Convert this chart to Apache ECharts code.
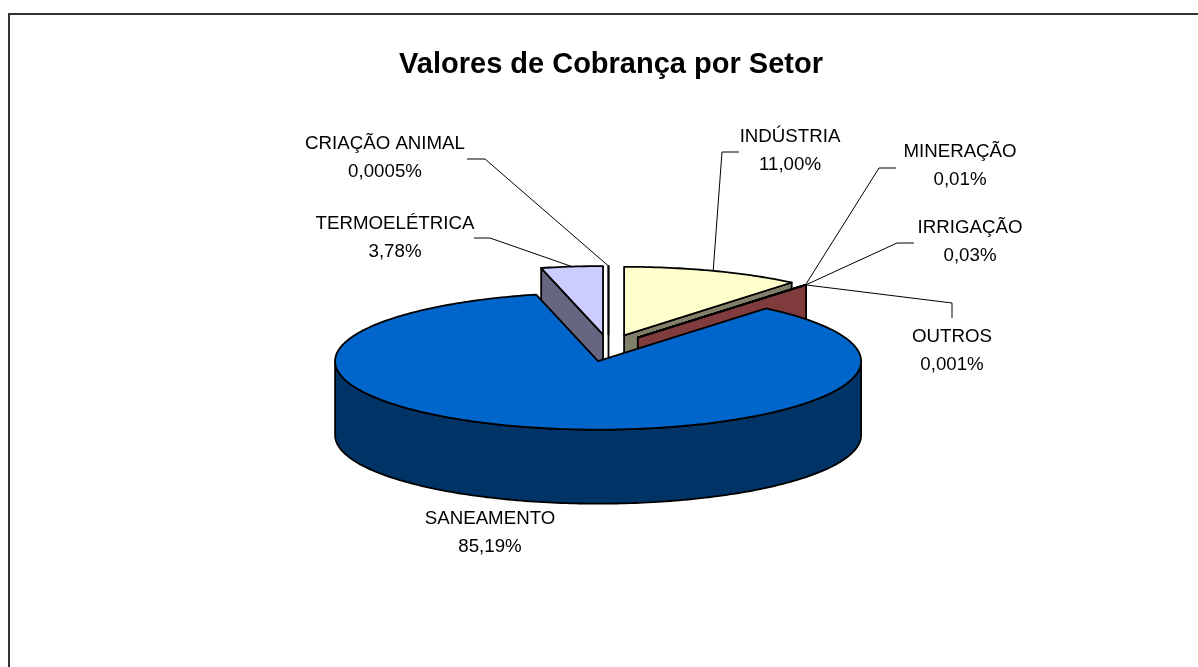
<!DOCTYPE html>
<html><head><meta charset="utf-8">
<script src="https://cdn.jsdelivr.net/npm/echarts@6/dist/echarts.min.js"></script>
<style>html,body{margin:0;padding:0;background:#fff}#c{width:1198px;height:667px}</style>
</head><body><div id="c"></div>
<script>
// ---- data ----
const titleText = 'Valores de Cobrança por Setor';
const categories = ['INDÚSTRIA','MINERAÇÃO','IRRIGAÇÃO','OUTROS','SANEAMENTO','TERMOELÉTRICA','CRIAÇÃO ANIMAL'];
const values = [11.00, 0.01, 0.03, 0.001, 85.19, 3.78, 0.0005];
const valueLabels = ['11,00%','0,01%','0,03%','0,001%','85,19%','3,78%','0,0005%'];

// ---- styles and layout ----
const topColors  = ['#FFFFCC','#993366','#993333','#993333','#0066CC','#CCCCFF','#FFFFFF'];
const wallColors = ['#80806A','#803C3C','#803C3C','#803C3C','#003366','#666680','#FFFFFF'];
const drawRank   = [1,2,3,4,7,5,6];
const pie = {cx:608.5, cy:348, rx:263, ry:68.5, depth:74, explodeX:46, explodeY:13.5};
const labelPos = [[790,137],[960,152],[970,228],[952,337],[490,519],[395,224],[385,144]];
const labelGap = 28;
// leader: elbow points from the label side; the last point is the slice's rim point
const leaderElbows = [
  [[739,152],[722,152]],
  [[896,168],[879,168]],
  [[914,243],[897,243]],
  [[952,318],[952,303]],
  null,
  [[474,238],[490,238]],
  [[467,159],[485,159]]
];
const labelFont = '18.7px "Liberation Sans", Arial, sans-serif';

// ---- geometry from values ----
const total = values.reduce((a,b)=>a+b,0);
const D2R = Math.PI/180;
let acc = 0;
const angles = values.map(v=>{const a0=acc; acc+=v/total*360; return [a0,acc];});

function pt(c,t,rx,ry){return [c[0]+rx*Math.sin(t*D2R), c[1]-ry*Math.cos(t*D2R)];}
function down(p){return [p[0],p[1]+pie.depth];}
function sliceCenter(a0,a1){
  return pt([pie.cx,pie.cy],(a0+a1)/2,pie.explodeX,pie.explodeY);
}
function arc(c,a0,a1){
  const n=Math.max(1,Math.ceil(a1-a0)), out=[];
  for(let i=0;i<=n;i++) out.push(pt(c,a0+(a1-a0)*i/n,pie.rx,pie.ry));
  return out;
}
const stroke={stroke:'#000',lineWidth:1.8,lineJoin:'round'};

function renderItem(params,api){
  const i=params.dataIndex, [a0,a1]=angles[i];
  const c=sliceCenter(a0,a1), z=drawRank[i]*10, kids=[];
  const face=(a,zz)=>{
    const p=pt(c,a,pie.rx,pie.ry);
    kids.push({type:'polygon',z2:zz,shape:{points:[c,p,down(p),down(c)]},
      style:Object.assign({fill:wallColors[i]},stroke)});
  };
  if(Math.sin(a0*D2R)<0) face(a0,z);
  if(Math.sin(a1*D2R)>0) face(a1,z);
  const w0=Math.max(a0,90), w1=Math.min(a1,270);
  if(w1>w0){
    const rim=arc(c,w0,w1);
    kids.push({type:'polygon',z2:z+1,shape:{points:rim.concat(rim.map(down).reverse())},
      style:Object.assign({fill:wallColors[i]},stroke)});
  }
  kids.push({type:'polygon',z2:z+2,shape:{points:[c].concat(arc(c,a0,a1))},
    style:Object.assign({fill:topColors[i]},stroke)});
  // label
  const [lx,ly]=labelPos[i];
  kids.push({type:'text',z2:200,style:{text:categories[i],x:lx,y:ly,align:'center',verticalAlign:'middle',font:labelFont,fill:'#000'}});
  kids.push({type:'text',z2:200,style:{text:valueLabels[i],x:lx,y:ly+labelGap,align:'center',verticalAlign:'middle',font:labelFont,fill:'#000'}});
  if(leaderElbows[i]){
    const tip=pt(c,(a0+a1)/2,pie.rx,pie.ry);
    kids.push({type:'polyline',z2:150,shape:{points:leaderElbows[i].concat([tip])},
      style:{stroke:'#000',lineWidth:1,fill:'none'}});
  }
  return {type:'group',children:kids};
}

const chart=echarts.init(document.getElementById('c'));
chart.setOption({
  animation:false,
  backgroundColor:'#fff',
  title:{text:titleText,left:606,top:45,textAlign:'center',
    textStyle:{fontFamily:'"Liberation Sans", Arial, sans-serif',fontWeight:'bold',fontSize:29,color:'#000'}},
  graphic:[{type:'polyline',silent:true,z:-1,shape:{points:[[9,667],[9,14],[1198,14]]},
    style:{fill:'none',stroke:'#333',lineWidth:2}}],
  series:[{type:'custom',coordinateSystem:'none',renderItem,clip:false,
    data:values.map((v,i)=>({name:categories[i],value:[v]}))}]
});
</script></body></html>
